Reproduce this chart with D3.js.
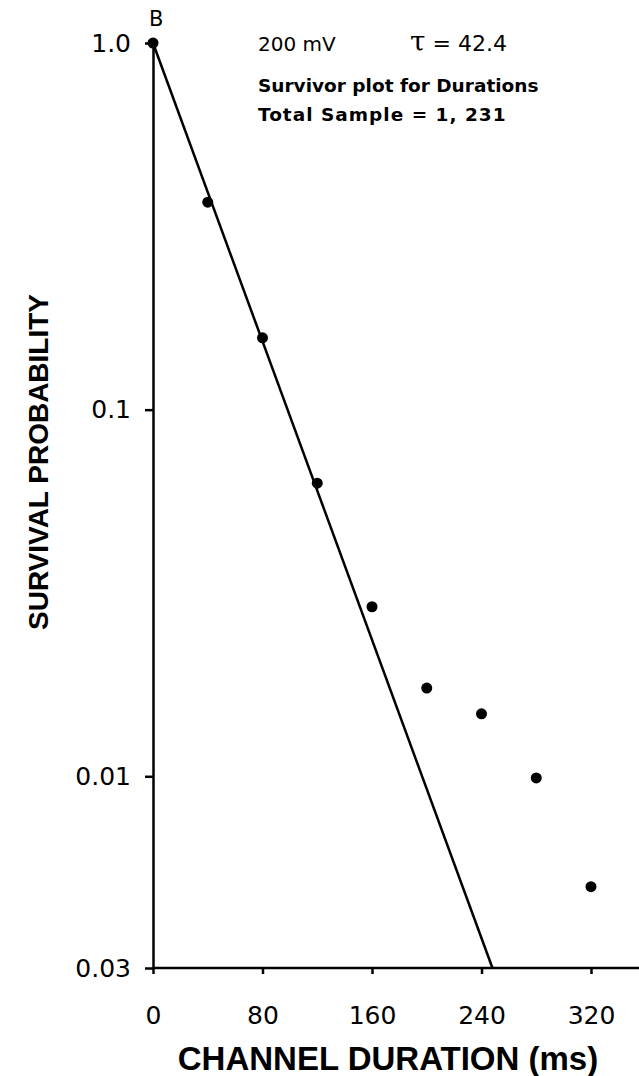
<!DOCTYPE html>
<html>
<head>
<meta charset="utf-8">
<script src="https://cdn.jsdelivr.net/npm/d3@7"></script>
<style>
  body { margin: 0; background: #fff; }
  svg { display: block; }
  .axis path, .axis line { stroke: #000; stroke-width: 2.5; }
  .axis text { font-family: 'DejaVu Sans', sans-serif; font-size: 25px; fill: #000; }
  .title { font-family: 'Liberation Sans', Arial, sans-serif; font-weight: bold; font-size: 33px; fill: #000; }
  .note { font-family: 'DejaVu Sans', sans-serif; fill: #000; }
</style>
</head>
<body>
<div id="chart"></div>
<script>
// data
var durations = [0, 40, 80, 120, 160, 200, 240, 280, 320];
var survival = [1.0, 0.368, 0.157, 0.063, 0.029, 0.0174, 0.0148, 0.0099, 0.0050];

// fitted line (tau = 42.4), end points
var fitT = [0, 248];
var fitP = [1.0, 0.003];

var xTicks = [0, 80, 160, 240, 320];
var yTicks = [1.0, 0.1, 0.01, 0.003];
var yTickLabels = ['1.0', '0.1', '0.01', '0.03'];

var width = 639, height = 1076;

var svg = d3.select('#chart')
    .append('svg')
    .attr('width', width)
    .attr('height', height);

var x = d3.scaleLinear()
    .domain([0, 320])
    .range([153, 591]);

var y = d3.scaleLog()
    .domain([0.003, 1])
    .range([968, 43]);

// x axis
var xAxis = svg.append('g')
    .attr('class', 'axis')
    .attr('transform', 'translate(0,' + y(0.003) + ')')
    .call(d3.axisBottom(x)
        .tickValues(xTicks)
        .tickSize(6)
        .tickSizeOuter(0)
        .tickPadding(32)
        .tickFormat(function(d) { return d; })
    );
xAxis.select('.domain').attr('d', 'M' + x(0) + ',0H' + width);

// y axis
var yAxis = svg.append('g')
    .attr('class', 'axis')
    .attr('transform', 'translate(' + x(0) + ',0)')
    .call(d3.axisLeft(y)
        .tickValues(yTicks)
        .tickSize(8)
        .tickSizeOuter(0)
        .tickPadding(14)
        .tickFormat(function(d, i) { return yTickLabels[i]; })
    );

// axis titles
svg.append('text')
    .attr('class', 'title')
    .attr('x', 388)
    .attr('y', 1070)
    .attr('text-anchor', 'middle')
    .text('CHANNEL DURATION  (ms)');

svg.append('text')
    .attr('class', 'title')
    .attr('transform', 'translate(48,462) rotate(-90)')
    .attr('text-anchor', 'middle')
    .style('font-size', '28px')
    .text('SURVIVAL  PROBABILITY');

// fit line
var line = d3.line()
    .x(function(d) { return x(d[0]); })
    .y(function(d) { return y(d[1]); });

svg.append('path')
    .datum(d3.zip(fitT, fitP))
    .attr('d', line)
    .attr('fill', 'none')
    .attr('stroke', '#000')
    .attr('stroke-width', 2.5);

// points
svg.selectAll('circle.pt')
    .data(d3.zip(durations, survival))
    .enter()
    .append('circle')
    .attr('class', 'pt')
    .attr('cx', function(d) { return x(d[0]); })
    .attr('cy', function(d) { return y(d[1]); })
    .attr('r', 5.5)
    .attr('fill', '#000');

// annotations
svg.append('text').attr('class', 'note')
    .attr('x', 149).attr('y', 26)
    .style('font-size', '21px')
    .text('B');

svg.append('text').attr('class', 'note')
    .attr('x', 258).attr('y', 51)
    .style('font-size', '20px')
    .text('200 mV');

svg.append('text').attr('class', 'note')
    .attr('x', 410).attr('y', 51)
    .style('font-size', '22px')
    .html('<tspan style="font-family:\'DejaVu Serif\',serif;font-size:28px">τ</tspan> = 42.4');

svg.append('text').attr('class', 'note')
    .attr('x', 258).attr('y', 92)
    .style('font-size', '18.5px')
    .style('font-weight', 'bold')
    .text('Survivor plot for Durations');

svg.append('text').attr('class', 'note')
    .attr('x', 258).attr('y', 121)
    .style('font-size', '18.5px')
    .style('font-weight', 'bold')
    .style('letter-spacing', '1px')
    .text('Total Sample = 1, 231');
</script>
</body>
</html>
